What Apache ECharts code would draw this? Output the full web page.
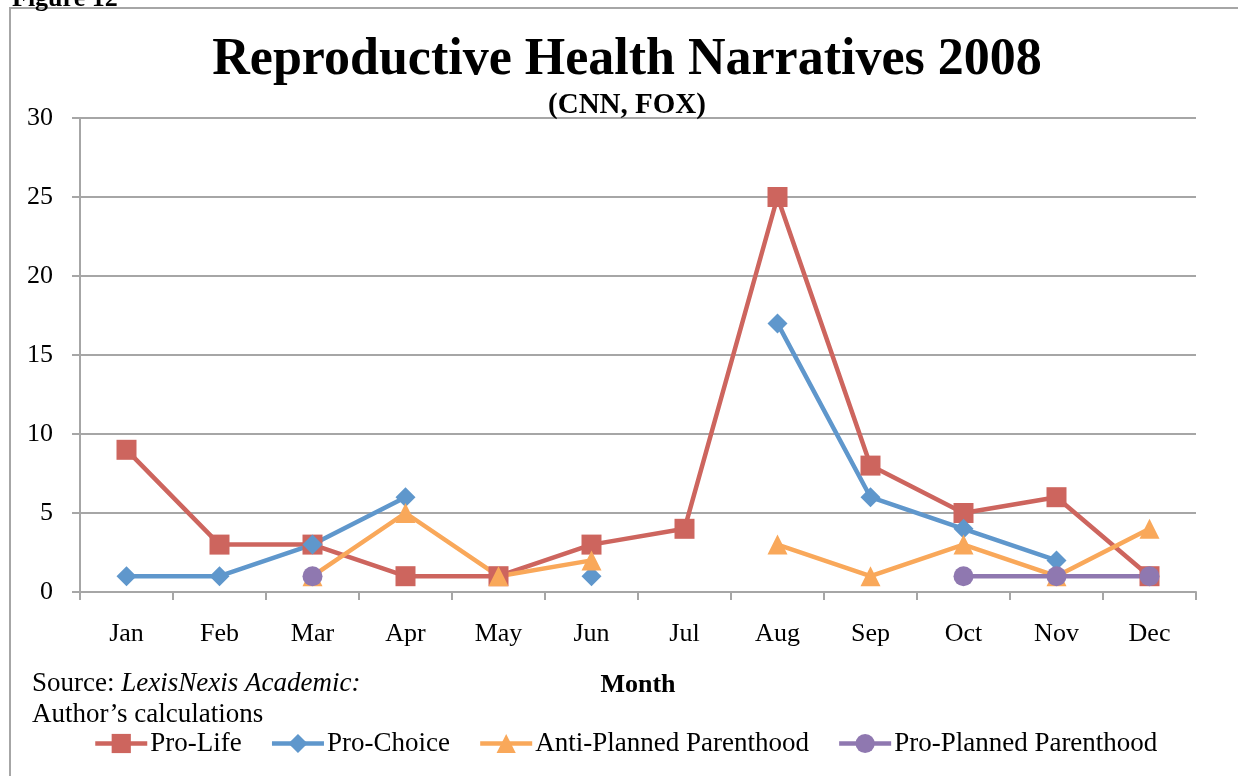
<!DOCTYPE html>
<html>
<head>
<meta charset="UTF-8">
<title>Reproductive Health Narratives 2008</title>
<script src="https://cdn.jsdelivr.net/npm/echarts@6/dist/echarts.min.js"></script>
<style>
  html, body { margin: 0; padding: 0; background: #fff; }
  #chart { width: 1238px; height: 776px; }
</style>
</head>
<body>
<div id="chart"></div>
<script>
// 数据
const months = ['Jan', 'Feb', 'Mar', 'Apr', 'May', 'Jun', 'Jul', 'Aug', 'Sep', 'Oct', 'Nov', 'Dec'];
const proLife = [9, 3, 3, 1, 1, 3, 4, 25, 8, 5, 6, 1];
const proChoice = [1, 1, 3, 6, null, 1, null, 17, 6, 4, 2, null];
const antiPP = [null, null, 1, 5, 1, 2, null, 3, 1, 3, 1, 4];
const proPP = [null, null, 1, null, null, null, null, null, null, 1, 1, 1];

const FONT = '"Liberation Serif", "DejaVu Serif", serif';
const GRID_LINE = '#A6A6A6';

function makeSeries(name, data, color, symbol, size) {
  return {
    name: name,
    type: 'line',
    data: data,
    symbol: symbol,
    symbolSize: size,
    connectNulls: false,
    lineStyle: { color: color, width: 4.5 },
    itemStyle: { color: color },
    emphasis: { disabled: true }
  };
}

const chart = echarts.init(document.getElementById('chart'));

chart.setOption({
  animation: false,
  textStyle: { fontFamily: FONT },
  title: {
    text: 'Reproductive Health Narratives 2008',
    subtext: '(CNN, FOX)',
    left: 622,
    textAlign: 'center',
    top: 30,
    itemGap: 4,
    textStyle: { fontFamily: FONT, fontSize: 52, fontWeight: 'bold', color: '#000' },
    subtextStyle: { fontFamily: FONT, fontSize: 29, fontWeight: 'bold', color: '#000' }
  },
  grid: { left: 80, right: 42, top: 118, bottom: 184, containLabel: false },
  xAxis: {
    type: 'category',
    data: months,
    boundaryGap: true,
    name: 'Month',
    nameLocation: 'middle',
    nameGap: 80,
    nameTextStyle: { fontFamily: FONT, fontSize: 26, fontWeight: 'bold', color: '#000' },
    axisLine: { lineStyle: { color: GRID_LINE, width: 2 } },
    axisTick: { show: true, length: 8, lineStyle: { color: GRID_LINE, width: 2 } },
    axisLabel: { fontFamily: FONT, fontSize: 26, color: '#000', margin: 29 },
    splitLine: { show: false }
  },
  yAxis: {
    type: 'value',
    min: 0,
    max: 30,
    interval: 5,
    axisLine: { show: true, lineStyle: { color: GRID_LINE, width: 2 } },
    axisTick: { show: true, length: 8, lineStyle: { color: GRID_LINE, width: 2 } },
    axisLabel: { fontFamily: FONT, fontSize: 26, color: '#000', margin: 27 },
    splitLine: { show: true, lineStyle: { color: GRID_LINE, width: 2 } }
  },
  legend: {
    left: 88,
    top: 725,
    itemWidth: 52,
    itemHeight: 24,
    itemGap: 28,
    lineStyle: { width: 4.5 },
    textStyle: { fontFamily: FONT, fontSize: 27, color: '#000', padding: [0, 0, 0, -2] },
    data: ['Pro-Life', 'Pro-Choice', 'Anti-Planned Parenthood', 'Pro-Planned Parenthood']
  },
  graphic: [
    {
      type: 'rect',
      silent: true,
      shape: { x: 10, y: 8, width: 1400, height: 900 },
      style: { fill: 'none', stroke: '#A6A6A6', lineWidth: 2 }
    },
    {
      type: 'text',
      left: 12,
      top: -14,
      style: { text: 'Figure 12', font: 'bold 26px ' + FONT, fill: '#000' }
    },
    {
      type: 'text',
      left: 32,
      top: 668,
      style: {
        text: 'Source: {i|LexisNexis Academic:}\nAuthor\u2019s calculations',
        font: '27px ' + FONT,
        fill: '#000',
        lineHeight: 31,
        rich: { i: { fontStyle: 'italic', fontFamily: FONT, fontSize: 27, fill: '#000' } }
      }
    }
  ],
  series: [
    makeSeries('Pro-Life', proLife, '#CD655E', 'rect', 20),
    makeSeries('Pro-Choice', proChoice, '#5F97CC', 'diamond', 20),
    makeSeries('Anti-Planned Parenthood', antiPP, '#F9A85A', 'triangle', 20),
    makeSeries('Pro-Planned Parenthood', proPP, '#8F78B0', 'circle', 20)
  ]
});
</script>
</body>
</html>
